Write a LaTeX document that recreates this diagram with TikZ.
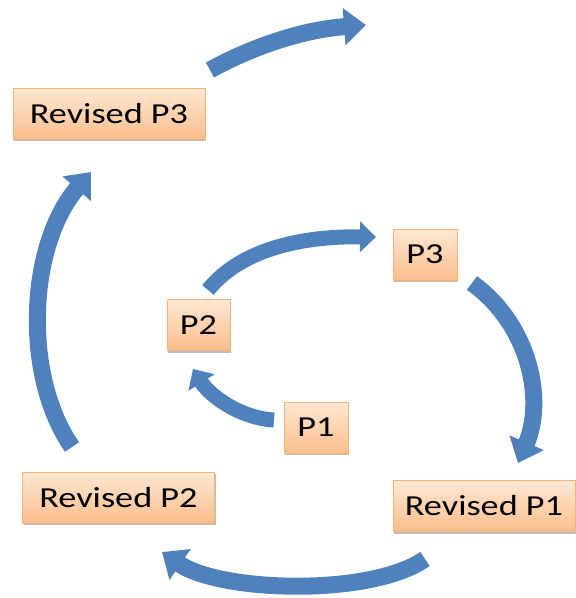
\documentclass[tikz,border=0pt]{standalone}
\usepackage{fontspec}
\setmainfont{Carlito}
\usetikzlibrary{arrows.meta,shadows}
\definecolor{arrowblue}{RGB}{79,129,189}
\definecolor{boxtop}{RGB}{254,232,212}
\definecolor{boxbot}{RGB}{251,190,140}
\definecolor{boxline}{RGB}{249,178,116}
\tikzset{
  pbox/.style={rectangle, inner sep=0pt, minimum height=51pt,
    top color=boxtop, bottom color=boxbot, draw=boxline, line width=0.8pt,
    drop shadow={shadow xshift=1pt, shadow yshift=-2pt, opacity=0.25, fill=black},
    font=\fontsize{29}{30}\selectfont, text=black},
  bigarrow/.style={draw=arrowblue, line width=17pt,
    -{Triangle[width=36pt,length=22pt]}},
  smallarrow/.style={draw=arrowblue, line width=15pt,
    -{Triangle[width=30pt,length=16pt]}}
}
\newcommand{\wtxt}[1]{\scalebox{1.25}[1]{#1}}
\begin{document}
\begin{tikzpicture}[x=1pt,y=-1pt]
\useasboundingbox (0,0) rectangle (576,598);
% boxes
\node[pbox, minimum width=192pt] (rp3) at (109,113.5) {\wtxt{Revised P3}};
\node[pbox, minimum width=63pt] (p2) at (198.5,325) {\wtxt{P2}};
\node[pbox, minimum width=64pt] (p3) at (425,254.5) {\wtxt{P3}};
\node[pbox, minimum width=64pt] (p1) at (316,427.5) {\wtxt{P1}};
\node[pbox, minimum width=182pt] (rp1) at (484,506) {\wtxt{Revised P1}};
\node[pbox, minimum width=192pt] (rp2) at (118.5,497.5) {\wtxt{Revised P2}};
% arrow end points
\coordinate (t1) at (274,420);  \coordinate (h1) at (193,369);
\coordinate (t2) at (208,290);  \coordinate (h2) at (376,237);
\coordinate (t3) at (472,283);  \coordinate (h3) at (518,463);
\coordinate (t4) at (425,559);  \coordinate (h4) at (162,552);
\coordinate (t5) at (72,447);   \coordinate (h5) at (91,172);
\coordinate (t6) at (210,70);   \coordinate (h6) at (366,25);
% arrows
\draw[smallarrow] (t1) .. controls (240,418) and (210,396) .. (h1);
\draw[smallarrow] (t2) .. controls (240,250) and (300,236) .. (h2);
\draw[bigarrow] (t3) .. controls (530,325) and (545,400) .. (h3);
\draw[bigarrow] (t4) .. controls (370,597) and (220,592) .. (h4);
\draw[bigarrow] (t5) .. controls (22,375) and (28,245) .. (h5);
\draw[bigarrow] (t6) .. controls (250,48) and (300,30) .. (h6);
\end{tikzpicture}
\end{document}
